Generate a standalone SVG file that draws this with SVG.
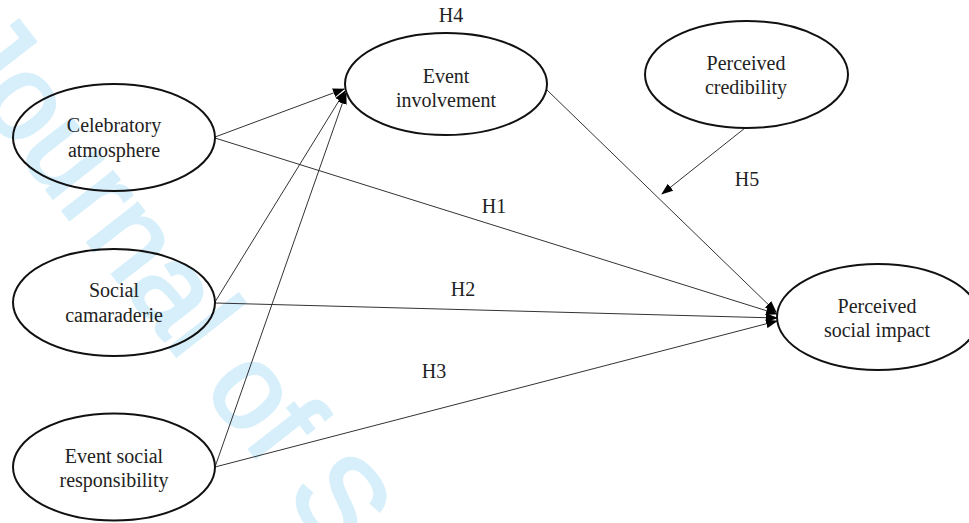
<svg xmlns="http://www.w3.org/2000/svg" width="969" height="523" viewBox="0 0 969 523">
<style>
.node ellipse{fill:none;stroke:#111;stroke-width:2}
.lbl{font-family:"Liberation Serif","Times New Roman",serif;font-size:20px;fill:#222;text-anchor:middle}
.edge{stroke:#333;stroke-width:1;fill:none}
.wm{font-family:"Liberation Sans",Arial,sans-serif;font-size:120px;fill:#d6effb;stroke:#d6effb;stroke-width:3}
</style>
<defs>
<marker id="ah" markerUnits="userSpaceOnUse" markerWidth="12" markerHeight="10" viewBox="0 0 12 10" refX="11" refY="5" orient="auto">
<path d="M0,0.5 L12,5 L0,9.5 Z" fill="#000"/>
</marker>
</defs>
<rect width="969" height="523" fill="#fff"/>
<text class="wm" transform="translate(-61,52) rotate(52)">Journal of S</text>
<g id="connectors">
<line class="edge" x1="215" y1="137" x2="344" y2="89" marker-end="url(#ah)"/>
<line class="edge" x1="215" y1="302" x2="345" y2="91" marker-end="url(#ah)"/>
<line class="edge" x1="215" y1="467" x2="346" y2="93" marker-end="url(#ah)"/>
<line class="edge" x1="215" y1="138" x2="777" y2="314" marker-end="url(#ah)"/>
<line class="edge" x1="215" y1="303" x2="777" y2="318" marker-end="url(#ah)"/>
<line class="edge" x1="215" y1="467" x2="777" y2="321" marker-end="url(#ah)"/>
<line class="edge" x1="547" y1="90" x2="776" y2="312" marker-end="url(#ah)"/>
<line class="edge" x1="745" y1="128" x2="662" y2="194" marker-end="url(#ah)"/>
<text class="lbl" x="494" y="213">H1</text>
<text class="lbl" x="463" y="296">H2</text>
<text class="lbl" x="434" y="378">H3</text>
<text class="lbl" x="451" y="22">H4</text>
<text class="lbl" x="747" y="186">H5</text>
</g>
<g id="celebratory" class="node">
<ellipse cx="114" cy="137.5" rx="101" ry="53.5"/>
<text class="lbl" x="114" y="132">Celebratory</text>
<text class="lbl" x="114" y="157">atmosphere</text>
</g>
<g id="camaraderie" class="node">
<ellipse cx="114" cy="302.5" rx="101" ry="53.5"/>
<text class="lbl" x="114" y="297">Social</text>
<text class="lbl" x="114" y="322">camaraderie</text>
</g>
<g id="responsibility" class="node">
<ellipse cx="114" cy="467" rx="101" ry="53.5"/>
<text class="lbl" x="114" y="463">Event social</text>
<text class="lbl" x="114" y="487">responsibility</text>
</g>
<g id="involvement" class="node">
<ellipse cx="446" cy="84" rx="101" ry="51"/>
<text class="lbl" x="446" y="83">Event</text>
<text class="lbl" x="446" y="107">involvement</text>
</g>
<g id="credibility" class="node">
<ellipse cx="746.5" cy="74.5" rx="101.5" ry="53.5"/>
<text class="lbl" x="746" y="70">Perceived</text>
<text class="lbl" x="746" y="94">credibility</text>
</g>
<g id="impact" class="node">
<ellipse cx="878" cy="317" rx="101" ry="53"/>
<text class="lbl" x="877" y="313">Perceived</text>
<text class="lbl" x="877" y="337">social impact</text>
</g>
</svg>
